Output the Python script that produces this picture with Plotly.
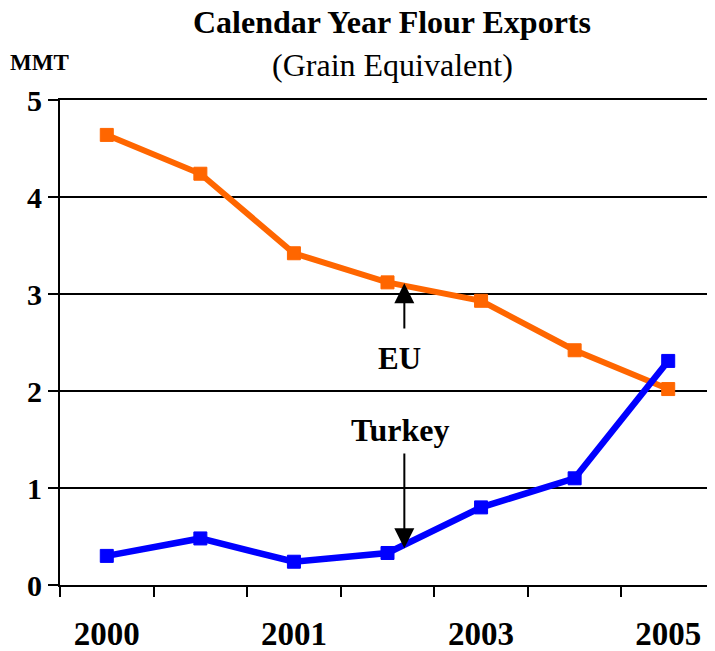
import plotly.graph_objects as go

# Data
positions = [0, 1, 2, 3, 4, 5, 6]
eu_values = [4.64, 4.24, 3.42, 3.12, 2.93, 2.42, 2.02]
turkey_values = [0.30, 0.48, 0.24, 0.33, 0.80, 1.10, 2.31]
tick_positions = [0, 2, 4, 6]
tick_labels = ["2000", "2001", "2003", "2005"]
boundaries = [-0.5, 0.5, 1.5, 2.5, 3.5, 4.5, 5.5, 6.5]

FONT = "Liberation Serif"
ORANGE = "#FF6600"
BLUE = "#0000FF"

fig = go.Figure()
fig.add_trace(go.Scatter(
    x=positions, y=eu_values, mode="lines+markers", name="EU",
    line=dict(color=ORANGE, width=6),
    marker=dict(symbol="square", size=13, color=ORANGE,
                line=dict(color=ORANGE, width=1)),
    cliponaxis=False,
))
fig.add_trace(go.Scatter(
    x=positions, y=turkey_values, mode="lines+markers", name="Turkey",
    line=dict(color=BLUE, width=6.5),
    marker=dict(symbol="square", size=13, color=BLUE,
                line=dict(color=BLUE, width=1)),
    cliponaxis=False,
))

# page body has an 8px margin, so the figure is sized to fill the rest
fig.update_layout(
    width=707, height=643,
    margin=dict(l=52, r=0, t=92, b=66),
    paper_bgcolor="white", plot_bgcolor="white",
    showlegend=False,
    font=dict(family=FONT, color="black"),
    xaxis=dict(
        range=[-0.5, 6.5], tickmode="array", tickvals=tick_positions,
        ticktext=[f"<b>{t}</b>" for t in tick_labels],
        tickfont=dict(size=33, family=FONT, color="black"),
        ticks="", showgrid=False, zeroline=False,
        showline=True, linecolor="black", linewidth=2, mirror=True,
        ticklabelstandoff=18,
        minor=dict(tickmode="array", tickvals=boundaries, ticks="outside",
                   ticklen=10, tickwidth=2, tickcolor="black", showgrid=False),
    ),
    yaxis=dict(
        range=[0, 5], tickmode="array", tickvals=[0, 1, 2, 3, 4, 5],
        ticktext=[f"<b>{v}</b>" for v in [0, 1, 2, 3, 4, 5]],
        tickfont=dict(size=30, family=FONT, color="black"),
        ticks="outside", ticklen=10, tickwidth=2, tickcolor="black",
        showgrid=True, gridcolor="black", gridwidth=1.5,
        zeroline=False, showline=True, linecolor="black", linewidth=2,
    ),
)

annotations = [
    dict(text="<b>Calendar Year Flour Exports</b>", x=0.507, y=1.161,
         xref="paper", yref="paper", showarrow=False,
         font=dict(size=32, family=FONT, color="black"),
         xanchor="center", yanchor="middle"),
    dict(text="(Grain Equivalent)", x=0.507, y=1.073,
         xref="paper", yref="paper", showarrow=False,
         font=dict(size=32, family=FONT, color="black"),
         xanchor="center", yanchor="middle"),
    dict(text="<b>MMT</b>", x=-0.031, y=1.078,
         xref="paper", yref="paper", showarrow=False,
         font=dict(size=23, family=FONT, color="black"),
         xanchor="center", yanchor="middle"),
    dict(text="<b>EU</b>", x=3.13, y=2.34, xref="x", yref="y",
         showarrow=False, font=dict(size=31, family=FONT, color="black"),
         xanchor="center", yanchor="middle"),
    dict(text="<b>Turkey</b>", x=3.13, y=1.60, xref="x", yref="y",
         showarrow=False, font=dict(size=32, family=FONT, color="black"),
         xanchor="center", yanchor="middle"),
    dict(text="", x=3.18, y=3.11, ax=3.18, ay=2.63, xref="x", yref="y",
         axref="x", ayref="y", showarrow=True, arrowhead=2,
         arrowwidth=2, arrowsize=2, arrowcolor="black"),
    dict(text="", x=3.18, y=0.38, ax=3.18, ay=1.37, xref="x", yref="y",
         axref="x", ayref="y", showarrow=True, arrowhead=2,
         arrowwidth=2, arrowsize=2, arrowcolor="black"),
]
fig.update_layout(annotations=annotations)

fig.write_html("out.html")
